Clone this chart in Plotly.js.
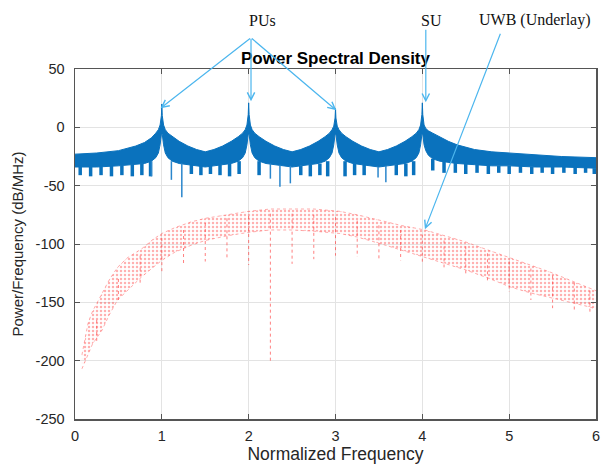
<!DOCTYPE html>
<html>
<head>
<meta charset="utf-8">
<script src="https://cdn.plot.ly/plotly-3.0.1.min.js"></script>
<style>html,body{margin:0;padding:0;background:#fff;}#chart{width:601px;height:465px;}</style>
</head>
<body>
<div id="chart"></div>
<script>
// ---- Blue (PUs + SU) PSD band: upper / lower envelope ----
var blueX = [0,0.25,0.5,0.7,0.8,0.88,0.93,0.96,0.98,0.995,1.0,1.005,1.02,1.04,1.07,1.12,1.2,1.3,1.4,1.5,1.6,1.7,1.8,1.88,1.93,1.96,1.98,1.995,2.0,2.005,2.02,2.04,2.07,2.12,2.2,2.3,2.4,2.5,2.6,2.7,2.8,2.88,2.93,2.96,2.98,2.995,3.0,3.005,3.02,3.04,3.07,3.12,3.2,3.3,3.4,3.5,3.6,3.7,3.8,3.88,3.93,3.96,3.98,3.995,4.0,4.005,4.02,4.04,4.07,4.12,4.2,4.3,4.4,4.6,4.8,5.0,5.3,5.6,6.0];
var blueUpper = [-23,-22,-20,-16,-13,-9,-5,-2,2,10,20,10,2,-2,-5,-8,-12,-16,-19,-21,-19,-16,-12,-8,-5,-2,2,11,21,11,2,-2,-5,-8,-12,-16,-19,-21,-19,-16,-12,-8,-5,-2,1,8,16,8,1,-2,-5,-8,-12,-16,-19,-21,-19,-16,-12,-8,-5,-2,2,11,21,11,2,-1,-3,-5,-8,-12,-15,-19,-21,-22,-24,-25,-26];
var blueLower = [-34,-34,-33,-32,-31,-29,-26,-22,-15,-6,-6,-6,-15,-22,-26,-29,-31,-32,-33,-34,-33,-32,-31,-29,-26,-22,-15,-6,-6,-6,-15,-22,-26,-29,-31,-32,-33,-34,-33,-32,-31,-29,-26,-22,-15,-6,-6,-6,-15,-22,-26,-29,-31,-32,-33,-34,-33,-32,-31,-29,-26,-22,-15,-6,-6,-6,-15,-20,-24,-27,-29,-30,-31,-32,-33,-33,-34,-34,-35];

// sidelobe nulls (teeth) of the blue PSD
var toothX =      [0.06,0.18,0.30,0.42,0.54,0.66,0.77,0.87, 1.34,1.45,1.56,1.67,1.78,1.89, 2.12,2.60,2.71,2.82,2.91, 3.11,3.22,3.33,3.70,3.81,3.90, 4.12,4.25,4.38,4.50,4.63,4.76,4.88,5.00,5.13,5.26,5.38,5.50,5.63,5.76,5.88,5.98];
var toothTop =    [-33,-33,-33,-33,-33,-32,-31,-29, -32,-33,-33,-32,-31,-29, -29,-33,-32,-31,-29, -29,-31,-32,-32,-31,-29, -27,-29,-30,-31,-32,-32,-33,-33,-33,-34,-34,-34,-34,-34,-34,-35];
var toothBottom = [-41,-42,-41,-42,-41,-42,-41,-42, -40,-41,-40,-41,-42,-40, -41,-41,-42,-41,-42, -42,-41,-41,-41,-42,-41, -37,-39,-39,-40,-39,-40,-39,-40,-39,-40,-39,-40,-39,-40,-39,-40];

// deep nulls of the blue PSD
var spikeX =      [0.88,1.11,1.23,2.25,2.36,2.48,3.49,3.58];
var spikeTop =    [-29,-29,-31,-31,-32,-33,-34,-33];
var spikeBottom = [-42,-45,-60,-44,-51,-48,-43,-47];

// ---- Red (UWB underlay) PSD band ----
var redX =     [0.08,0.12,0.15,0.2,0.31,0.4,0.49,0.6,0.77,0.9,1.0,1.15,1.34,1.5,1.75,2.0,2.25,2.5,2.75,3.05,3.25,3.53,3.75,4.03,4.25,4.49,4.75,5.02,5.25,5.47,5.7,5.93,6.0];
var redUpper = [-195,-180,-168,-158,-142,-130,-120,-112,-104,-96,-91,-86,-81,-78,-75,-72,-70,-70,-70,-72,-75,-80,-84,-88,-93,-98,-105,-112,-118,-124,-131,-138,-140];
var redLower = [-207,-200,-194,-186,-174,-160,-148,-140,-128,-120,-114,-107,-101,-97,-93,-90,-88,-88,-89,-91,-94,-100,-105,-111,-116,-122,-129,-137,-142,-146,-150,-154,-156];

// nulls of the red PSD
var redDipX =      [0.25,0.5,0.75,1.0,1.25,1.5,1.75,2.0,2.25,2.5,2.75,3.0,3.25,3.5,3.75,4.0,4.25,4.5,4.75,5.0,5.25,5.5,5.75,5.93];
var redDipTop =    [-165,-130,-110,-95,-88,-82,-78,-76,-74,-74,-75,-77,-80,-84,-88,-92,-97,-102,-108,-115,-121,-127,-133,-140];
var redDipBottom = [-185,-150,-134,-124,-118,-115,-114,-118,-200,-117,-113,-110,-111,-113,-114,-117,-120,-127,-133,-141,-148,-155,-157,-160];

// ---- axis ticks ----
var xTickVals = [0,1,2,3,4,5,6];
var yTickVals = [-250,-200,-150,-100,-50,0,50];
var yTickText = ['-250','-200','-150','-100','-50','0','50'];

// ---- annotation labels ----
var labelText = ['PUs','SU','UWB (Underlay)'];
var labelX = [2.16, 4.11, 5.3];

function segments(xs, tops, bottoms) {
  var sx = [], sy = [];
  for (var i = 0; i < xs.length; i++) {
    sx.push(xs[i], xs[i], null);
    sy.push(tops[i], bottoms[i], null);
  }
  return {x: sx, y: sy};
}

var blueC = '#0a72bd';
var teeth = segments(toothX, toothTop, toothBottom);
var spikes = segments(spikeX, spikeTop, spikeBottom);
var rdips = segments(redDipX, redDipTop, redDipBottom);

var traces = [
  {x: redX, y: redLower, mode: 'lines', line: {color: 'rgba(255,70,70,0.45)', width: 1, dash: 'dot'}, hoverinfo: 'skip', showlegend: false},
  {x: redX, y: redUpper, mode: 'lines', line: {color: 'rgba(255,70,70,0.45)', width: 1, dash: 'dot'},
   fill: 'tonexty', fillcolor: 'rgba(255,255,255,0)',
   fillpattern: {shape: '.', size: 4, solidity: 0.3, fgcolor: 'rgba(255,60,60,0.4)', bgcolor: 'rgba(255,255,255,0)'},
   hoverinfo: 'skip', showlegend: false},
  {x: rdips.x, y: rdips.y, mode: 'lines', line: {color: 'rgba(255,60,60,0.65)', width: 1, dash: 'dot'}, hoverinfo: 'skip', showlegend: false},
  {x: blueX, y: blueLower, mode: 'lines', line: {color: blueC, width: 1}, hoverinfo: 'skip', showlegend: false},
  {x: blueX, y: blueUpper, mode: 'lines', line: {color: blueC, width: 1}, fill: 'tonexty', fillcolor: blueC, hoverinfo: 'skip', showlegend: false},
  {x: teeth.x, y: teeth.y, mode: 'lines', line: {color: blueC, width: 3.5}, hoverinfo: 'skip', showlegend: false},
  {x: spikes.x, y: spikes.y, mode: 'lines', line: {color: '#2a86cc', width: 1.5}, hoverinfo: 'skip', showlegend: false}
];

var arrowColor = '#4cb6ee';
var annotations = [];
for (var i = 0; i < labelText.length; i++) {
  annotations.push({x: labelX[i], y: 1.14, xref: 'x', yref: 'paper', text: labelText[i], showarrow: false,
    xanchor: 'center', yanchor: 'middle', font: {family: 'Liberation Serif, Times New Roman, serif', size: 16, color: '#111'}});
}
var arrows = [
  {x: 0.985, y: 16.3, ax: 91, ay: -71},
  {x: 2.027, y: 22.3, ax: 0, ay: -64},
  {x: 3.01, y: 14.6, ax: -86, ay: -73},
  {x: 4.04, y: 21.4, ax: 0, ay: -74},
  {x: 4.03, y: -87.4, ax: 76, ay: -197}
];
arrows.forEach(function (a) {
  annotations.push({x: a.x, y: a.y, xref: 'x', yref: 'y', ax: a.ax, ay: a.ay, text: '', showarrow: true,
    arrowhead: 5, arrowsize: 1.2, arrowwidth: 1.2, arrowcolor: arrowColor, standoff: 0});
});

var axisFont = {family: 'Liberation Sans, Arial, sans-serif', size: 14.5, color: '#262626'};
var layout = {
  width: 601, height: 465,
  margin: {l: 75, r: 5, t: 69, b: 46},
  paper_bgcolor: '#fff', plot_bgcolor: '#fff',
  title: {text: '<b>Power Spectral Density</b>', x: 0.5, xref: 'paper', xanchor: 'center',
    y: 0.875, yref: 'container', yanchor: 'middle',
    font: {family: 'Liberation Sans, Arial, sans-serif', size: 17, color: '#000'}},
  xaxis: {range: [0, 6], tickvals: xTickVals, showgrid: true, gridcolor: '#e3e3e3', gridwidth: 1, zeroline: false,
    showline: true, linecolor: '#555', linewidth: 1.5, mirror: 'ticks', ticks: 'inside', ticklen: 5, tickcolor: '#555',
    tickfont: axisFont, ticklabelstandoff: 3, ticklabeloverflow: 'allow',
    title: {text: 'Normalized Frequency', font: {family: 'Liberation Sans, Arial, sans-serif', size: 17.5, color: '#262626'}, standoff: 4}},
  yaxis: {range: [-250, 50], tickvals: yTickVals, ticktext: yTickText, showgrid: true, gridcolor: '#e3e3e3', gridwidth: 1, zeroline: false,
    showline: true, linecolor: '#555', linewidth: 1.5, mirror: 'ticks', ticks: 'inside', ticklen: 5, tickcolor: '#555',
    tickfont: axisFont, ticklabelstandoff: 6,
    title: {text: 'Power/Frequency (dB/MHz)', font: {family: 'Liberation Sans, Arial, sans-serif', size: 15, color: '#262626'}, standoff: 8}},
  annotations: annotations
};

Plotly.newPlot('chart', traces, layout, {staticPlot: true, displayModeBar: false});
</script>
</body>
</html>
